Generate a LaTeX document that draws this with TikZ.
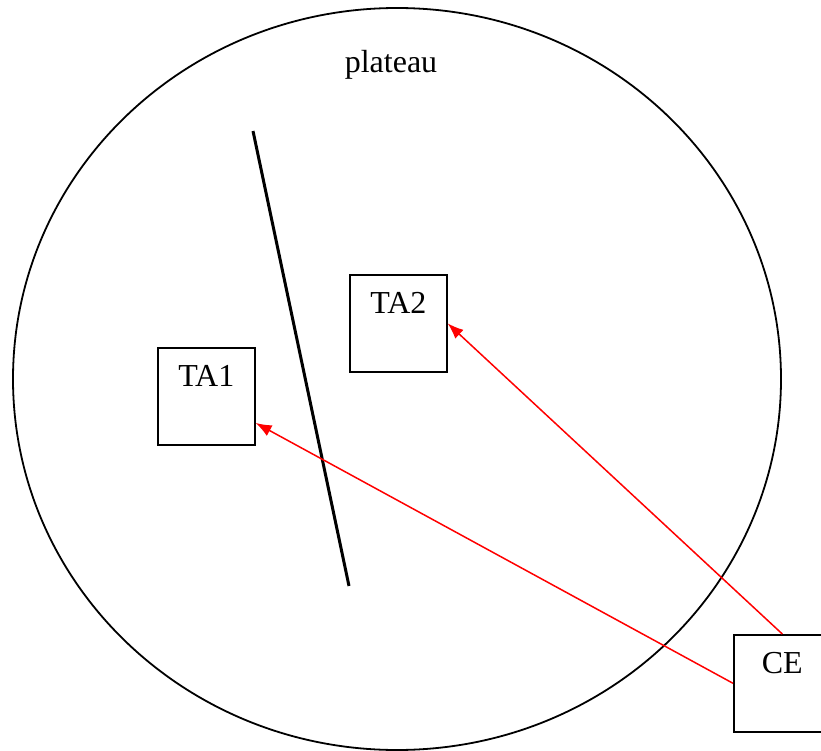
\documentclass[tikz,border=0pt]{standalone}
\usepackage{fontspec}
\setmainfont{Liberation Serif}
\usetikzlibrary{arrows.meta,calc}
\begin{document}
\begin{tikzpicture}[x=1pt,y=-1pt,>={Latex[length=16pt,width=12pt]},
  box/.style={draw,line width=1.6pt,inner sep=0pt,minimum width=97pt,
    text height=38.5pt,text depth=58.5pt,font=\fontsize{32}{38}\selectfont},
  link/.style={->,red,line width=1.5pt}]
  \clip (0,0) rectangle (821,751);
  \draw[line width=1.8pt] (397,379) ellipse(384 and 371);
  \node[font=\fontsize{32}{38}\selectfont,anchor=base] (plateau) at (391,73){plateau};
  \coordinate (wtop) at (253,131); \coordinate (wbot) at (349,586);
  \draw[line width=3pt] (wtop)--(wbot);
  \node[box,anchor=north west] (TA1) at (157,347){TA1};
  \node[box,anchor=north west] (TA2) at (349,274){TA2};
  \node[box,anchor=north west] (CE) at (733,634){CE};
  \draw[link] (CE.north)--(TA2.east);
  \draw[link] (CE.west)--($(TA1.south east)!0.23!(TA1.north east)$);
\end{tikzpicture}
\end{document}
